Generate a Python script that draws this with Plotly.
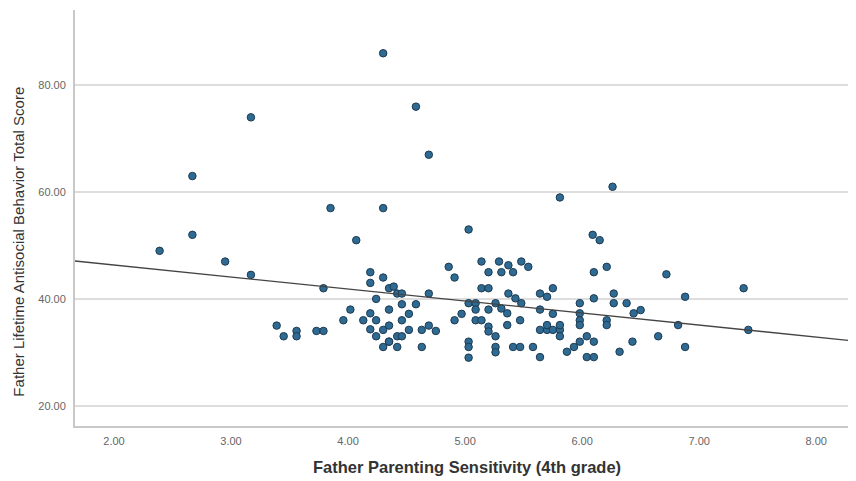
import numpy as np
import plotly.graph_objects as go

# Father Parenting Sensitivity (4th grade)
sensitivity = [
    2.39, 2.67, 2.67, 2.95, 3.17, 3.17, 3.39, 3.45, 3.56, 3.56,
    3.73, 3.79, 3.79, 3.85, 3.96, 4.02, 4.07, 4.13, 4.19, 4.19,
    4.19, 4.19, 4.24, 4.24, 4.24, 4.30, 4.30, 4.30, 4.30, 4.30,
    4.35, 4.39, 4.35, 4.35, 4.35, 4.42, 4.46, 4.42, 4.42, 4.46,
    4.46, 4.46, 4.52, 4.52, 4.58, 4.58, 4.63, 4.63, 4.69, 4.69,
    4.69, 4.75, 4.86, 4.91, 4.91, 4.97, 5.03, 5.03, 5.09, 5.03,
    5.03, 5.03, 5.09, 5.09, 5.14, 5.14, 5.14, 5.20, 5.20, 5.20,
    5.20, 5.20, 5.26, 5.26, 5.26, 5.26, 5.29, 5.37, 5.31, 5.41,
    5.48, 5.54, 5.31, 5.36, 5.37, 5.43, 5.48, 5.36, 5.47, 5.41,
    5.47, 5.58, 5.64, 5.64, 5.70, 5.75, 5.64, 5.75, 5.64, 5.70,
    5.75, 5.81, 5.70, 5.81, 5.81, 5.87, 5.93, 5.98, 6.04, 6.10,
    6.04, 6.10, 5.98, 5.98, 5.98, 5.98, 6.10, 6.21, 6.10, 6.27,
    6.27, 6.21, 6.21, 6.38, 6.44, 6.50, 6.32, 6.43, 6.65, 6.72,
    6.88, 6.82, 6.88, 7.38, 7.42, 5.81, 6.26, 6.09, 6.15, 4.35,
]

# Father Lifetime Antisocial Behavior Total Score
antisocial = [
    49.0, 63.0, 52.0, 47.0, 74.0, 44.5, 35.0, 33.0, 34.0, 33.0,
    34.0, 34.0, 42.0, 57.0, 36.0, 38.0, 51.0, 36.0, 45.0, 43.0,
    37.3, 34.3, 40.0, 36.0, 33.0, 86.0, 57.0, 44.0, 34.2, 31.0,
    42.0, 42.3, 38.0, 35.0, 32.0, 41.0, 41.0, 33.0, 31.0, 39.0,
    36.0, 33.0, 37.2, 34.2, 39.0, 76.0, 34.2, 31.0, 41.0, 35.0,
    67.0, 34.0, 46.0, 44.0, 36.0, 37.2, 53.0, 39.2, 39.2, 32.0,
    31.0, 29.0, 38.0, 36.0, 36.0, 47.0, 42.0, 42.0, 45.0, 38.0,
    34.8, 33.9, 39.2, 33.0, 31.0, 30.0, 47.0, 46.3, 45.0, 45.0,
    47.0, 46.0, 38.2, 37.3, 41.0, 40.1, 39.2, 35.1, 36.0, 31.0,
    31.0, 31.0, 29.1, 41.0, 40.4, 42.0, 38.0, 37.2, 34.2, 34.2,
    34.2, 34.2, 35.1, 35.1, 33.0, 30.1, 31.0, 32.0, 33.0, 32.0,
    29.1, 29.1, 39.2, 37.3, 36.0, 35.1, 45.0, 46.0, 40.1, 41.0,
    39.2, 36.0, 35.1, 39.2, 37.3, 37.9, 30.1, 32.0, 33.0, 44.6,
    40.4, 35.1, 31.0, 42.0, 34.2, 59.0, 61.0, 52.0, 51.0, 32.0,
]

x_ticks = [2, 3, 4, 5, 6, 7, 8]
y_ticks = [20, 40, 60, 80]
x_range = [1.667, 8.34]
y_range = [16.2, 94.1]

# Linear fit line (reading of the drawn regression line)
fit_intercept = 50.85
fit_slope = -2.25

fit_x = np.array(x_range)
fit_y = fit_intercept + fit_slope * fit_x

fig = go.Figure()
fig.add_trace(go.Scatter(
    x=sensitivity, y=antisocial, mode="markers",
    marker=dict(size=7.5, color="#2f6a92", line=dict(color="#1c3b52", width=1)),
    showlegend=False, hoverinfo="x+y",
))
fig.add_trace(go.Scatter(
    x=fit_x, y=fit_y, mode="lines",
    line=dict(color="#444444", width=1.3),
    showlegend=False, hoverinfo="skip",
))

tick_font = dict(family="Liberation Sans, Arial, sans-serif", size=11, color="#666666")

fig.update_layout(
    width=848, height=473,
    margin=dict(l=67, r=0, t=2, b=55),
    paper_bgcolor="white", plot_bgcolor="white",
    xaxis=dict(
        range=x_range, tickvals=x_ticks, tickformat=".2f",
        showgrid=False, zeroline=False,
        showline=True, linecolor="#c8c8c8", linewidth=2,
        ticks="", tickfont=tick_font, ticklabelstandoff=4,
    ),
    yaxis=dict(
        range=y_range, tickvals=y_ticks, tickformat=".2f",
        showgrid=True, gridcolor="#dddddd", gridwidth=2,
        zeroline=False,
        showline=True, linecolor="#c8c8c8", linewidth=2,
        ticks="", tickfont=tick_font, ticklabelstandoff=5,
    ),
    annotations=[
        dict(text="<b>Father Parenting Sensitivity (4th grade)</b>",
             xref="paper", yref="paper", x=0.502, y=0, yshift=-41,
             xanchor="center", yanchor="middle", showarrow=False,
             font=dict(family="Liberation Sans, Arial, sans-serif", size=16.5, color="#333333")),
        dict(text="Father Lifetime Antisocial Behavior Total Score",
             xref="paper", yref="paper", x=0, xshift=-56.5, y=0.442,
             xanchor="center", yanchor="middle", showarrow=False, textangle=-90,
             font=dict(family="Liberation Sans, Arial, sans-serif", size=15, color="#333333")),
    ],
)

fig.write_html("out.html")
